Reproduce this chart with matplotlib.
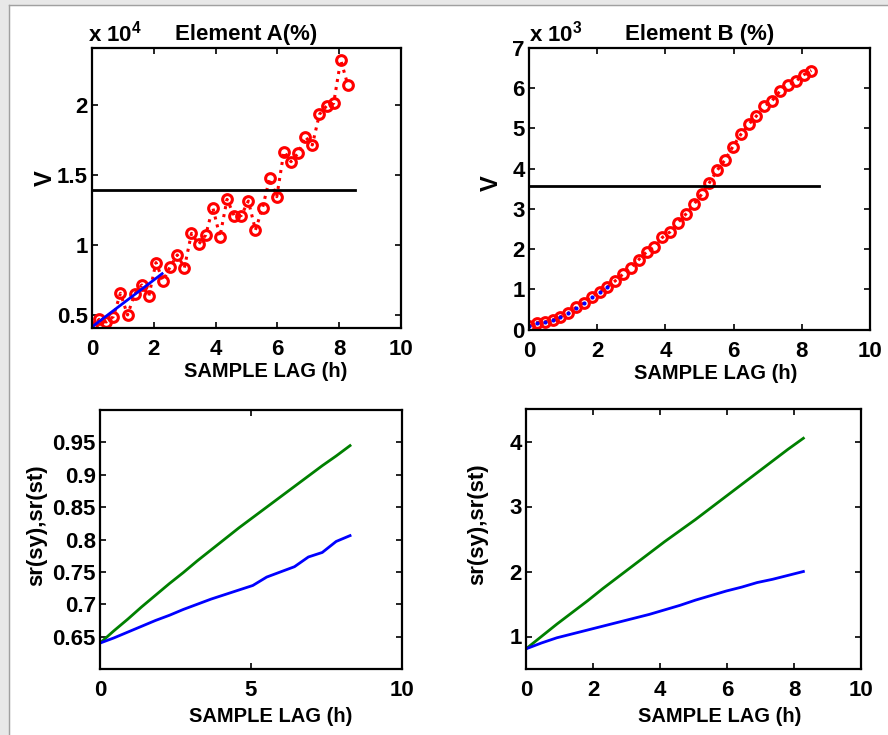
import matplotlib
matplotlib.use('Agg')
import matplotlib.pyplot as plt
from matplotlib.patches import Rectangle
from matplotlib.lines import Line2D
from matplotlib.ticker import FuncFormatter

plt.rcParams['font.family'] = ['Liberation Sans', 'DejaVu Sans']
plt.rcParams['font.weight'] = 'bold'
plt.rcParams['mathtext.fontset'] = 'custom'
plt.rcParams['mathtext.rm'] = 'Liberation Sans:bold'
plt.rcParams['mathtext.bf'] = 'Liberation Sans:bold'
plt.rcParams['mathtext.default'] = 'bf'

# data
lag = [0.00, 0.23, 0.46, 0.69, 0.92, 1.15, 1.38, 1.61, 1.84, 2.07, 2.30, 2.53,
       2.76, 2.99, 3.22, 3.45, 3.68, 3.91, 4.14, 4.37, 4.60, 4.83, 5.06, 5.29,
       5.52, 5.75, 5.98, 6.21, 6.44, 6.67, 6.90, 7.13, 7.36, 7.59, 7.82, 8.05, 8.28]

varA = [4120, 4690, 4500, 4880, 6550, 5000, 6500, 7140, 6360, 8740, 7450, 8450,
        9290, 8380, 10830, 10050, 10710, 12670, 10600, 13260, 12100, 12100, 13140, 11070,
        12670, 14760, 13450, 16670, 15950, 16550, 17740, 17140, 19330, 19930, 20120, 23210, 21430]

fitA_x = [0.0, 2.27]
fitA_y = [4150, 7950]

varB = [87, 170, 190, 235, 320, 400, 550, 670, 810, 940, 1060, 1210,
        1380, 1540, 1740, 1930, 2050, 2290, 2430, 2660, 2870, 3110, 3360, 3650,
        3960, 4220, 4550, 4850, 5100, 5310, 5550, 5690, 5930, 6070, 6170, 6330, 6440]

fitB_x = lag[:11]
fitB_y = [95, 165, 195, 240, 320, 405, 545, 665, 805, 935, 1060]
sill_A = 13930
sill_B = 3560
sill_end = 8.5

lag2 = [0.00, 0.46, 0.92, 1.38, 1.84, 2.30, 2.76, 3.22, 3.68, 4.14,
        4.60, 5.06, 5.52, 5.98, 6.44, 6.90, 7.36, 7.82, 8.28]
srA_green = [0.640, 0.659, 0.677, 0.696, 0.714, 0.732, 0.749, 0.767, 0.784, 0.801,
             0.818, 0.834, 0.850, 0.866, 0.882, 0.898, 0.914, 0.929, 0.945]
srA_blue = [0.640, 0.648, 0.657, 0.666, 0.675, 0.683, 0.692, 0.700, 0.708, 0.715,
            0.722, 0.729, 0.742, 0.750, 0.758, 0.773, 0.780, 0.797, 0.806]
srB_green = [0.81, 1.00, 1.19, 1.37, 1.55, 1.74, 1.92, 2.10, 2.28, 2.46,
             2.63, 2.80, 2.98, 3.16, 3.34, 3.52, 3.70, 3.88, 4.05]
srB_blue = [0.81, 0.90, 0.98, 1.04, 1.10, 1.16, 1.22, 1.28, 1.34, 1.41,
            1.48, 1.56, 1.63, 1.70, 1.76, 1.83, 1.88, 1.94, 2.00]

W, H = 888, 735
fig = plt.figure(figsize=(W / 100, H / 100), dpi=100)

def box(l, t, r, b):
    return [l / W, 1 - b / H, (r - l) / W, (b - t) / H]

def style(ax):
    for s in ax.spines.values():
        s.set_linewidth(1.6)
    ax.tick_params(direction='in', top=True, right=True, length=4, width=1.2,
                   labelsize=16, pad=8)
    ax.tick_params(axis='y', pad=3)

ax1 = fig.add_axes(box(92, 48, 401, 328))
ax2 = fig.add_axes(box(529, 48, 870, 329.5))
ax3 = fig.add_axes(box(100, 410, 402, 669))
ax4 = fig.add_axes(box(526, 409, 861, 669))

# top left
ax1.plot(lag, varA, ':', color='red', lw=2.2)
ax1.plot(lag, varA, 'o', mfc='none', mec='red', ms=7, mew=2.2)
ax1.plot(fitA_x, fitA_y, '-', color='blue', lw=2)
ax1.plot([0, sill_end], [sill_A, sill_A], '-', color='black', lw=2)
ax1.set_xlim(0, 10)
ax1.set_ylim(4070, 24070)
ax1.set_xticks([0, 2, 4, 6, 8, 10])
ax1.set_yticks([5000, 10000, 15000, 20000])
ax1.yaxis.set_major_formatter(FuncFormatter(lambda v, p: '%g' % (v / 1e4)))
ax1.set_title('Element A(%)', fontsize=16, fontweight='bold', pad=6)
ax1.text(-0.012, 1.005, r'x 10$^{4}$', transform=ax1.transAxes, fontsize=16,
         fontweight='bold', ha='left', va='bottom')

# top right
ax2.plot(lag, varB, ':', color='red', lw=2.2)
ax2.plot(lag, varB, 'o', mfc='none', mec='red', ms=7, mew=2.2)
ax2.plot(fitB_x, fitB_y, '.', color='blue', ms=4)
ax2.plot([0, sill_end], [sill_B, sill_B], '-', color='black', lw=2)
ax2.set_xlim(0, 10)
ax2.set_ylim(0, 7000)
ax2.set_xticks([0, 2, 4, 6, 8, 10])
ax2.set_yticks(range(0, 7001, 1000))
ax2.yaxis.set_major_formatter(FuncFormatter(lambda v, p: '%g' % (v / 1e3)))
ax2.set_title('Element B (%)', fontsize=16, fontweight='bold', pad=6)
ax2.text(0.0, 1.005, r'x 10$^{3}$', transform=ax2.transAxes, fontsize=16,
         fontweight='bold', ha='left', va='bottom')

# bottom left
ax3.plot(lag2, srA_green, '-', color='#008000', lw=2)
ax3.plot(lag2, srA_blue, '-', color='blue', lw=2)
ax3.set_xlim(0, 10)
ax3.set_ylim(0.6, 1.0)
ax3.set_xticks([0, 5, 10])
ax3.set_yticks([0.65, 0.7, 0.75, 0.8, 0.85, 0.9, 0.95])
ax3.yaxis.set_major_formatter(FuncFormatter(lambda v, p: '%g' % round(v, 2)))

# bottom right
ax4.plot(lag2, srB_green, '-', color='#008000', lw=2)
ax4.plot(lag2, srB_blue, '-', color='blue', lw=2)
ax4.set_xlim(0, 10)
ax4.set_ylim(0.5, 4.5)
ax4.set_xticks([0, 2, 4, 6, 8, 10])
ax4.set_yticks([1, 2, 3, 4])

for ax in (ax1, ax2, ax3, ax4):
    style(ax)
    ax.set_xlabel('SAMPLE LAG (h)', fontsize=14.5, fontweight='bold')

ax1.xaxis.set_label_coords(0.563, -0.122)
ax2.xaxis.set_label_coords(0.548, -0.122)
ax3.xaxis.set_label_coords(0.566, -0.145)
ax4.xaxis.set_label_coords(0.579, -0.145)

ax1.set_ylabel('V', fontsize=17, fontweight='bold', va='center')
ax2.set_ylabel('V', fontsize=17, fontweight='bold', va='center')
ax3.set_ylabel('sr(sy),sr(st)', fontsize=16, fontweight='bold', va='center')
ax4.set_ylabel('sr(sy),sr(st)', fontsize=16, fontweight='bold', va='center')
ax1.yaxis.set_label_coords(-0.15, 0.536)
ax2.yaxis.set_label_coords(-0.11, 0.52)
ax3.yaxis.set_label_coords(-0.209, 0.556)
ax4.yaxis.set_label_coords(-0.143, 0.556)

# window frame
fig.add_artist(Rectangle((0, 0), 9 / W, 1, transform=fig.transFigure, color='#e8e8e8', zorder=0))
fig.add_artist(Rectangle((0, 1 - 5 / H), 1, 5 / H, transform=fig.transFigure, color='#e8e8e8', zorder=0))
fig.add_artist(Line2D([9 / W, 9 / W], [0, 1 - 5 / H], transform=fig.transFigure, color='#a0a0a0', lw=1))
fig.add_artist(Line2D([9 / W, 1], [1 - 5 / H, 1 - 5 / H], transform=fig.transFigure, color='#a0a0a0', lw=1))

fig.savefig('out.png', dpi=100)
